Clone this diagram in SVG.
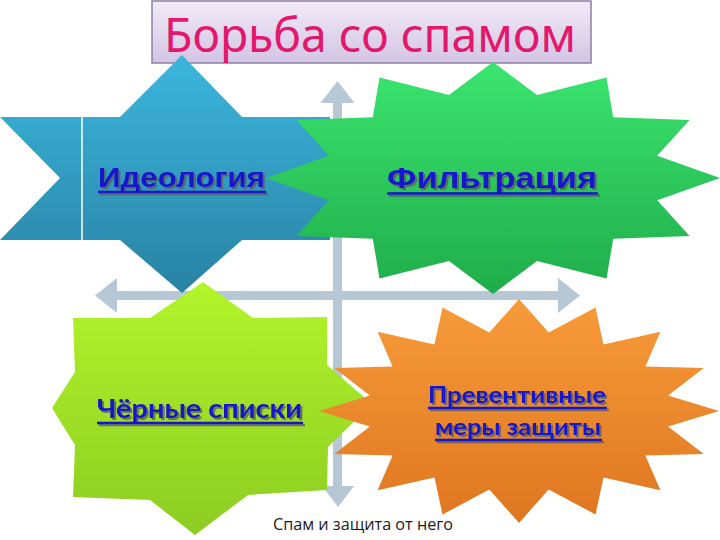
<svg xmlns="http://www.w3.org/2000/svg" width="720" height="540" viewBox="0 0 720 540">
<defs>
<linearGradient id="gTitle" x1="0" y1="0" x2="0" y2="1"><stop offset="0" stop-color="#f1ebf7"/><stop offset="1" stop-color="#d3c4e5"/></linearGradient>
<linearGradient id="gBlue" x1="0" y1="0" x2="0" y2="1"><stop offset="0" stop-color="#3cb6de"/><stop offset="1" stop-color="#2882a3"/></linearGradient>
<linearGradient id="gGreen" x1="0" y1="0" x2="0" y2="1"><stop offset="0" stop-color="#3be56f"/><stop offset="1" stop-color="#1fac4a"/></linearGradient>
<linearGradient id="gLime" x1="0" y1="0" x2="0" y2="1"><stop offset="0" stop-color="#b2f52a"/><stop offset="1" stop-color="#8ccc22"/></linearGradient>
<linearGradient id="gOrange" x1="0" y1="0" x2="0" y2="1"><stop offset="0" stop-color="#f79b3a"/><stop offset="1" stop-color="#df7620"/></linearGradient>
<filter id="ts" x="-10%" y="-30%" width="120%" height="160%"><feDropShadow dx="2" dy="2" stdDeviation="0.6" flood-color="#5a5a5a" flood-opacity="0.75"/></filter>
</defs>
<style>
.axis{fill:#b6c7d6}
.lbl{font-family:"Liberation Sans",Arial,sans-serif;font-weight:bold;fill:#1212cc}
.lbl2{font-family:Lato,"Open Sans",sans-serif;font-weight:bold;fill:#1212cc}
.ul{stroke:#1212cc;stroke-width:2.5}
.tx{filter:url(#ts)}
</style>

<g id="title">
<rect x="152" y="1" width="439" height="62" fill="url(#gTitle)" stroke="#8a80a2" stroke-width="1.5"/>
<text x="164" y="52" font-family="'Noto Sans','Open Sans',sans-serif" font-size="48" fill="#e3186c" textLength="412" lengthAdjust="spacingAndGlyphs">Борьба со спамом</text>
</g>

<g id="connectors">
<polygon class="axis" points="337.5,81 354.5,103 342,103 342,486 354,486 338,507 322,486 333,486 333,103 320.5,103"/>
<polygon class="axis" points="95,295.5 117,278 117,291 558,291 558,278 580,295.5 558,313 558,300 117,300 117,313"/>
</g>

<g id="ideology">
<path d="M0,117 L120,117 L182,55 L242,117 L330,117 L330,240 L242,240 L182,293 L120,240 L0,240 L60,178 Z" fill="url(#gBlue)"/>
<line x1="82" y1="117" x2="82" y2="240" stroke="#ffffff" stroke-width="1.5"/>
</g>

<g id="filtration">
<polygon fill="url(#gGreen)" points="493,62 537,94.9 606.5,77.5 613.2,117.2 689.6,120 657.2,155.7 720,178 657.2,200.3 689.6,236 613.2,238.8 606.5,278.5 537,261.1 493,294 449,261.1 379.5,278.5 372.8,238.8 296.4,236 328.8,200.3 266,178 328.8,155.7 296.4,120 372.8,117.2 379.5,77.5 449,94.9"/>
</g>

<g id="ideology-label" class="tx">
<text class="lbl" x="98" y="187" font-size="27" textLength="167" lengthAdjust="spacingAndGlyphs">Идеология</text>
<line class="ul" x1="98" y1="192" x2="266" y2="192"/>
</g>

<g id="filtration-label" class="tx">
<text class="lbl" x="387" y="188" font-size="30" textLength="210" lengthAdjust="spacingAndGlyphs">Фильтрация</text>
<line class="ul" x1="387" y1="193.5" x2="598" y2="193.5"/>
</g>

<g id="blacklists">
<polygon fill="url(#gLime)" points="203,282 253,318 327,317 327,365 372,404 328,447 327,490 248,495 195,535 150,500 73,497 75,445 52,408 75,372 73,318 150,318"/>
<g class="tx">
<text class="lbl2" x="97" y="418" font-size="27" textLength="205" lengthAdjust="spacingAndGlyphs">Чёрные списки</text>
<line class="ul" x1="97" y1="423" x2="303" y2="423"/>
</g>
</g>

<g id="preventive">
<polygon fill="url(#gOrange)" points="519,299 548.7,332.5 595.5,307.5 603.5,344.5 660.4,331.8 645.4,366.6 703.8,368.1 668.1,395.4 719,411 668.1,426.6 703.8,453.9 645.4,455.4 660.4,490.2 603.5,477.5 595.5,514.5 548.7,489.5 519,523 489.3,489.5 442.5,514.5 434.5,477.5 377.6,490.2 392.6,455.4 334.2,453.9 369.9,426.6 319,411 369.9,395.4 334.2,368.1 392.6,366.6 377.6,331.8 434.5,344.5 442.5,307.5 489.3,332.5"/>
<g class="tx">
<text class="lbl2" x="428" y="403" font-size="23" textLength="178" lengthAdjust="spacingAndGlyphs">Превентивные</text>
<line class="ul" x1="428" y1="408" x2="607" y2="408"/>
<text class="lbl2" x="435" y="435" font-size="23" textLength="166" lengthAdjust="spacingAndGlyphs">меры защиты</text>
<line class="ul" x1="435" y1="440" x2="602" y2="440"/>
</g>
</g>

<g id="caption">
<text x="273" y="530" font-family="'Open Sans','Liberation Sans',sans-serif" font-size="16" fill="#1a1a1a" textLength="180" lengthAdjust="spacingAndGlyphs">Спам и защита от него</text>
</g>
</svg>
